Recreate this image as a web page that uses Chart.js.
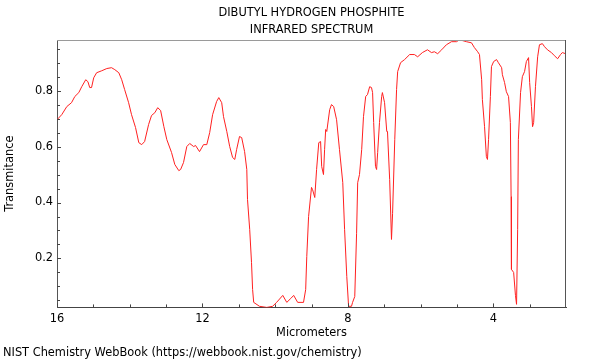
<!DOCTYPE html>
<html>
<head>
<meta charset="utf-8">
<script src="https://cdn.jsdelivr.net/npm/chart.js@4/dist/chart.umd.min.js"></script>
<style>
  html, body { margin: 0; padding: 0; background: #fff; }
  #c { display: block; }
</style>
</head>
<body>
<canvas id="c" width="600" height="360"></canvas>
<script>
// ---- data ----
const titleLines = ['DIBUTYL HYDROGEN PHOSPHITE', 'INFRARED SPECTRUM'];
const footerText = 'NIST Chemistry WebBook (https://webbook.nist.gov/chemistry)';
const xAxisTitle = 'Micrometers';
const yAxisTitle = 'Transmitance';

const wavelength = [
  16.00, 15.87, 15.73, 15.60, 15.51, 15.40, 15.32, 15.21, 15.15, 15.10, 15.05, 14.99,
  14.91, 14.77, 14.63, 14.50, 14.41, 14.30, 14.22, 14.14, 14.03, 13.95, 13.84, 13.75,
  13.67, 13.59, 13.48, 13.40, 13.31, 13.23, 13.15, 13.06, 12.98, 12.85, 12.76, 12.65,
  12.60, 12.52, 12.43, 12.35, 12.24, 12.19, 12.08, 11.97, 11.88, 11.80, 11.72, 11.61,
  11.55, 11.47, 11.42, 11.33, 11.25, 11.17, 11.11, 11.06, 10.98, 10.92, 10.84, 10.78,
  10.76, 10.70, 10.65, 10.62, 10.59, 10.43, 10.23, 10.07, 9.96, 9.79, 9.68, 9.57,
  9.49, 9.38, 9.22, 9.16, 9.13, 9.08, 9.00, 8.97, 8.91, 8.86, 8.80, 8.75,
  8.72, 8.67, 8.64, 8.61, 8.58, 8.50, 8.45, 8.39, 8.31, 8.23, 8.14, 8.09,
  8.03, 7.98, 7.90, 7.87, 7.81, 7.76, 7.73, 7.68, 7.62, 7.57, 7.51, 7.46,
  7.40, 7.35, 7.32, 7.29, 7.24, 7.21, 7.18, 7.13, 7.07, 7.05, 6.99, 6.93,
  6.91, 6.85, 6.80, 6.77, 6.71, 6.66, 6.63, 6.55, 6.44, 6.30, 6.17, 6.08,
  5.95, 5.81, 5.70, 5.62, 5.53, 5.42, 5.29, 5.15, 5.01, 4.93, 4.74, 4.60,
  4.52, 4.43, 4.38, 4.32, 4.30, 4.24, 4.19, 4.16, 4.13, 4.08, 4.05, 3.99,
  3.91, 3.86, 3.77, 3.75, 3.69, 3.64, 3.58, 3.53, 3.51, 3.50, 3.44, 3.39,
  3.36, 3.33, 3.31, 3.25, 3.20, 3.14, 3.09, 3.03, 3.00, 2.95, 2.92, 2.89,
  2.84, 2.78, 2.73, 2.65, 2.59, 2.51, 2.40, 2.32, 2.23, 2.15, 2.10, 2.01
];
const transmittance = [
  0.696, 0.714, 0.743, 0.757, 0.779, 0.793, 0.814, 0.839, 0.832, 0.811, 0.811, 0.846,
  0.864, 0.871, 0.879, 0.882, 0.875, 0.864, 0.839, 0.804, 0.757, 0.714, 0.668, 0.614,
  0.607, 0.618, 0.679, 0.711, 0.721, 0.739, 0.729, 0.671, 0.625, 0.579, 0.536, 0.514,
  0.518, 0.543, 0.600, 0.611, 0.600, 0.604, 0.582, 0.607, 0.607, 0.650, 0.714, 0.761,
  0.775, 0.757, 0.707, 0.654, 0.600, 0.561, 0.554, 0.589, 0.636, 0.632, 0.582, 0.518,
  0.411, 0.304, 0.186, 0.089, 0.043, 0.029, 0.025, 0.029, 0.043, 0.068, 0.043, 0.057,
  0.068, 0.043, 0.043, 0.089, 0.207, 0.350, 0.454, 0.446, 0.418, 0.518, 0.614, 0.618,
  0.529, 0.500, 0.589, 0.661, 0.654, 0.732, 0.750, 0.743, 0.696, 0.589, 0.471, 0.304,
  0.136, 0.029, 0.029, 0.043, 0.064, 0.290, 0.471, 0.500, 0.589, 0.707, 0.779, 0.786,
  0.814, 0.811, 0.793, 0.686, 0.529, 0.518, 0.579, 0.686, 0.779, 0.793, 0.757, 0.654,
  0.654, 0.482, 0.268, 0.360, 0.625, 0.804, 0.868, 0.900, 0.911, 0.929, 0.929, 0.921,
  0.936, 0.946, 0.936, 0.939, 0.932, 0.946, 0.964, 0.975, 0.975, 0.982, 0.975, 0.971,
  0.954, 0.939, 0.929, 0.839, 0.768, 0.671, 0.564, 0.554, 0.625, 0.779, 0.886, 0.904,
  0.911, 0.900, 0.882, 0.857, 0.829, 0.796, 0.779, 0.686, 0.421, 0.161, 0.150, 0.068,
  0.036, 0.304, 0.625, 0.793, 0.850, 0.868, 0.904, 0.918, 0.829, 0.743, 0.671, 0.686,
  0.814, 0.921, 0.964, 0.968, 0.957, 0.946, 0.936, 0.925, 0.914, 0.929, 0.936, 0.932
];
const xTickLabels = [16, 12, 8, 4];
const xMinorTicks = [15, 14, 13, 11, 10, 9, 7, 6, 5, 3];
const yTickLabels = [0.2, 0.4, 0.6, 0.8];
const yMinorTicks = [0.05, 0.1, 0.15, 0.25, 0.3, 0.35, 0.45, 0.5, 0.55, 0.65, 0.7, 0.75, 0.85, 0.9, 0.95];

// ---- chart ----
const FONT = 'DejaVu Sans';
const FS = 11.4;

const framePlugin = {
  id: 'frame',
  afterDatasetsDraw(chart) {
    const {ctx, chartArea: a, scales: {x, y}} = chart;
    ctx.save();
    ctx.lineWidth = 1;
    // top border (light gray) and right border (dark gray)
    ctx.strokeStyle = '#9a9a9a';
    ctx.beginPath();
    ctx.moveTo(a.left, a.top + 0.5);
    ctx.lineTo(a.right, a.top + 0.5);
    ctx.stroke();
    ctx.strokeStyle = '#555555';
    ctx.beginPath();
    ctx.moveTo(a.right - 0.5, a.top);
    ctx.lineTo(a.right - 0.5, a.bottom);
    ctx.stroke();
    // inward tick marks, placed through the chart's scales
    ctx.strokeStyle = '#444444';
    ctx.beginPath();
    xTickLabels.forEach(v => {
      const px = Math.round(x.getPixelForValue(v)) + 0.5;
      ctx.moveTo(px, a.bottom); ctx.lineTo(px, a.bottom - 4);
    });
    xMinorTicks.forEach(v => {
      const px = Math.round(x.getPixelForValue(v)) + 0.5;
      ctx.moveTo(px, a.bottom); ctx.lineTo(px, a.bottom - 3);
    });
    yTickLabels.forEach(v => {
      const py = Math.round(y.getPixelForValue(v)) + 0.5;
      ctx.moveTo(a.left, py); ctx.lineTo(a.left + 4, py);
    });
    yMinorTicks.forEach(v => {
      const py = Math.round(y.getPixelForValue(v)) + 0.5;
      ctx.moveTo(a.left, py); ctx.lineTo(a.left + 3, py);
    });
    ctx.stroke();
    ctx.restore();
  }
};

new Chart(document.getElementById('c'), {
  type: 'line',
  data: {
    datasets: [{
      data: wavelength.map((w, i) => ({x: w, y: transmittance[i]})),
      borderColor: '#ff2020',
      borderWidth: 1,
      pointRadius: 0,
      tension: 0,
      fill: false
    }]
  },
  options: {
    responsive: false,
    devicePixelRatio: 1,
    animation: false,
    layout: {padding: {left: 3, right: 34, top: 0, bottom: 0}},
    plugins: {
      legend: {display: false},
      tooltip: {enabled: false},
      title: {
        display: true,
        text: titleLines,
        fullSize: false,
        color: '#000',
        font: {family: FONT, size: FS, weight: 'normal', lineHeight: 17.6 / FS},
        padding: {top: 4, bottom: 0.8}
      },
      subtitle: {
        display: true,
        text: footerText,
        position: 'bottom',
        align: 'start',
        color: '#000',
        font: {family: FONT, size: FS, weight: 'normal', lineHeight: 1.2},
        padding: {top: 5.6, bottom: 0.3}
      }
    },
    scales: {
      x: {
        type: 'linear',
        reverse: true,
        min: 2,
        max: 16,
        grid: {display: false, drawTicks: false},
        border: {display: true, color: '#444444', width: 1},
        afterBuildTicks: s => { s.ticks = xTickLabels.map(v => ({value: v})); },
        afterFit: s => { s.height = 33; },
        ticks: {
          color: '#000',
          font: {family: FONT, size: FS},
          padding: 5,
          maxRotation: 0,
          autoSkip: false,
          callback: v => String(v)
        },
        title: {
          display: true,
          text: xAxisTitle,
          color: '#000',
          font: {family: FONT, size: FS},
          padding: {top: 0, bottom: 0.8}
        }
      },
      y: {
        type: 'linear',
        min: 0.025,
        max: 0.981,
        grid: {display: false, drawTicks: false},
        border: {display: true, color: '#555555', width: 1},
        afterBuildTicks: s => { s.ticks = yTickLabels.map(v => ({value: v})); },
        afterFit: s => { s.width = 54; },
        ticks: {
          color: '#000',
          font: {family: FONT, size: FS},
          padding: 4,
          autoSkip: false,
          callback: v => v.toFixed(1)
        },
        title: {
          display: true,
          text: yAxisTitle,
          color: '#000',
          font: {family: FONT, size: FS},
          padding: {top: 0, bottom: 0}
        }
      }
    }
  },
  plugins: [framePlugin]
});
</script>
</body>
</html>
